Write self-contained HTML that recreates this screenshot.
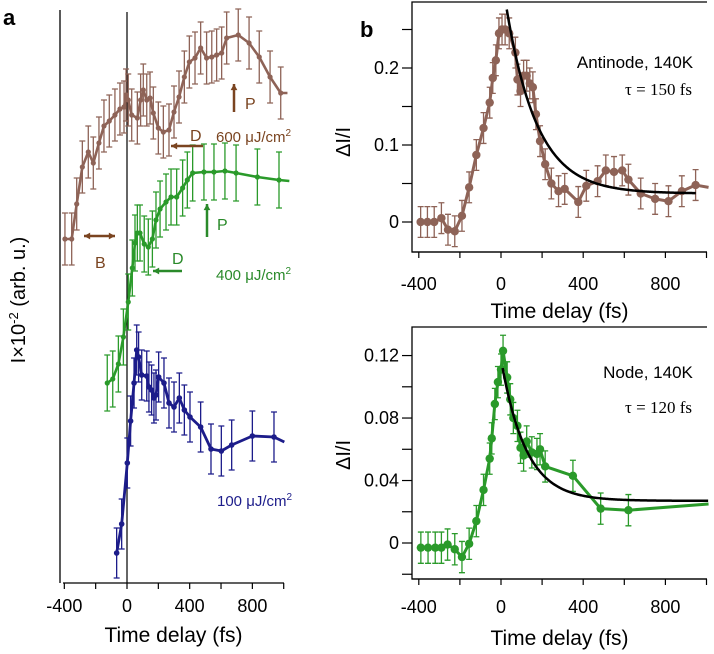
<!DOCTYPE html>
<html><head><meta charset="utf-8"><style>
html,body{margin:0;padding:0;background:#fff;width:714px;height:654px;overflow:hidden}
svg{display:block;font-family:"Liberation Sans",sans-serif}
</style></head><body>
<svg id="c" width="714" height="654" viewBox="0 0 714 654"></svg>
<script>
// ---------- Panel a data ----------
const aBrownT=[-396,-353,-321,-285,-247,-215,-179,-147,-113,-77,-45,-19,-6,8,30,66,87,104,126,147,168,200,232,268,300,332,366,398,434,470,508,541,572,604,636,710,779,844,913,981];
const aBrownV=[3.44,3.44,3.79,4.16,4.31,4.20,4.40,4.57,4.62,4.68,4.74,4.76,4.88,4.83,4.68,4.65,4.83,4.93,4.83,4.85,4.70,4.55,4.51,4.53,4.71,4.86,5.06,5.21,5.25,5.35,5.25,5.26,5.28,5.30,5.45,5.48,5.40,5.26,5.06,4.90];
const aGreenT=[-126,-91,-55,-23,8,34,51,66,83,110,136,162,185,211,249,281,317,355,385,419,491,555,625,696,832,970];
const aGreenV=[2.00,2.04,2.19,2.46,2.81,3.15,3.40,3.50,3.50,3.39,3.36,3.44,3.63,3.74,3.81,3.86,3.86,3.95,4.03,4.10,4.11,4.11,4.12,4.10,4.06,4.03];
const aBlueT=[-66,-34,2,23,45,62,74,94,126,140,157,172,185,202,236,268,300,334,366,402,470,536,602,668,800,938];
const aBlueV=[0.30,0.59,1.20,1.62,2.00,2.33,2.26,2.08,2.07,1.96,1.93,1.85,1.88,2.06,2.00,1.80,1.76,1.85,1.73,1.66,1.56,1.34,1.32,1.38,1.47,1.46];
const aErr=0.26;
const xTickLabels=[-400,0,400,800];
// ---------- Panel b data ----------
const bTopT=[-391,-358,-325,-290,-258,-225,-190,-155,-120,-85,-55,-40,-25,-10,5,20,40,70,80,95,110,125,140,155,170,190,215,245,280,310,376,415,470,510,550,590,620,680,750,815,880,947];
const bTopV=[0,0,0,0.005,-0.01,-0.012,0.008,0.045,0.087,0.122,0.155,0.187,0.21,0.245,0.25,0.25,0.245,0.22,0.185,0.17,0.19,0.19,0.18,0.175,0.14,0.105,0.075,0.05,0.04,0.043,0.026,0.047,0.053,0.067,0.065,0.067,0.055,0.037,0.03,0.027,0.04,0.048];
const bTopErr=0.02;
const bTopFit=[0.037,0.276,150,28,950]; // offset, start value, tau, t0, t1
const bTopYTicks=[0,0.1,0.2];
const bBotT=[-390,-355,-320,-290,-260,-225,-190,-155,-120,-85,-55,-45,-30,-15,0,10,30,45,60,80,95,110,125,150,175,190,215,350,485,620];
const bBotV=[-0.003,-0.003,-0.003,-0.003,-0.001,-0.004,-0.009,-0.0005,0.014,0.034,0.054,0.067,0.089,0.103,0.111,0.123,0.106,0.092,0.080,0.075,0.061,0.056,0.065,0.058,0.057,0.060,0.049,0.043,0.022,0.021];
const bBotErr=0.01;
const bBotFit=[0.027,0.112,120,8,1010];
const bBotYTicks=[0,0.04,0.08,0.12];

const svg=document.getElementById('c');
const NS='http://www.w3.org/2000/svg';
function mk(tag,attrs,parent){const e=document.createElementNS(NS,tag);for(const k in attrs)e.setAttribute(k,attrs[k]);(parent||svg).appendChild(e);return e;}
function txt(s,x,y,size,fill,anchor,extra){const e=mk('text',Object.assign({x:x,y:y,'font-size':size,fill:fill||'#000','text-anchor':anchor||'middle'},extra||{}));e.textContent=s;return e;}

// scales
const xA=t=>127+t*0.1567, yA=v=>583-v*100;
const xB=t=>501+t*0.2055, yBt=v=>222-770*v, yBb=v=>543-1562*v;

function series(T,V,err,xs,ys,color,r,lw,name,extraEnd){
  const g=mk('g',{});
  
  
  for(let i=0;i<T.length;i++){
    const x=xs(T[i]);
    const l=mk('path',{d:`M${x},${ys(V[i]-err)}V${ys(V[i]+err)}M${x-3},${ys(V[i]-err)}h6M${x-3},${ys(V[i]+err)}h6`,stroke:color,'stroke-width':1.3,fill:'none'},g);
    
    
  }
  let d=T.map((t,i)=>(i?'L':'M')+xs(t)+','+ys(V[i])).join('');
  if(extraEnd)d+='L'+xs(extraEnd[0])+','+ys(extraEnd[1]);
  const p=mk('path',{d:d,stroke:color,'stroke-width':lw,fill:'none','stroke-linejoin':'round'},g);
  
  
  for(let i=0;i<T.length;i++){
    const c=mk('circle',{cx:xs(T[i]),cy:ys(V[i]),r:r,fill:color},g);
    
    
  }
}
function fit(F,xs,ys,name){
  let d='';
  for(let t=F[3];t<=F[4];t+=5){d+=(d?'L':'M')+xs(t)+','+ys(F[0]+(F[1]-F[0])*Math.exp(-(t-F[3])/F[2]));}
  const p=mk('path',{d:d,stroke:'#000','stroke-width':2.5,fill:'none'});
  
  
}
function xAxis(xs,y,x0,x1,labelY,titleY,name){
  const g=mk('g',{});
  
  
  mk('line',{x1:x0,x2:x1,y1:y,y2:y,stroke:'#000','stroke-width':1.3},g);
  for(let t=-400;t<=1000;t+=200)mk('line',{x1:xs(t),x2:xs(t),y1:y,y2:y+6,stroke:'#000','stroke-width':1.2},g);
  xTickLabels.forEach(v=>{const e=txt(String(v),xs(v),labelY,18,'#000','middle');g.appendChild(e);});
  const t=txt('Time delay (fs)',(x0+x1)/2,titleY,21);
}

// ---------- Panel a ----------
const la=txt('a',3,25,22,'#000','start',{'font-weight':'bold'});
const ay=mk('line',{x1:60,x2:60,y1:10,y2:583,stroke:'#000','stroke-width':1.3});
const z0=mk('line',{x1:127,x2:127,y1:12,y2:583,stroke:'#000','stroke-width':1.2});
const yl=txt('',0,0,20,'#000','middle',{transform:'translate(25,300) rotate(-90)'});
const s1=mk('tspan',{},yl);s1.textContent='I×10';
const s2=mk('tspan',{dy:-7,'font-size':13},yl);s2.textContent='-2';
const s3=mk('tspan',{dy:7},yl);s3.textContent=' (arb. u.)';

xAxis(xA,583,63,284,612,642,'panel-a-x-axis');

series(aBrownT,aBrownV,aErr,xA,yA,'#8e6357',2.6,2.6,'series-600',[1024,4.90]);
series(aGreenT,aGreenV,0.28,xA,yA,'#2a9a2a',2.6,2.6,'series-400',[1036,4.02]);
series(aBlueT,aBlueV,0.25,xA,yA,'#1c1c8a',2.8,2.8,'series-100',[1004,1.41]);

function arrow(x1,y1,x2,y2,color,name,dbl){
  const g=mk('g',{});
  mk('line',{x1:x1,y1:y1,x2:x2,y2:y2,stroke:color,'stroke-width':2.5},g);
  const head=(ax,ay,bx,by)=>{const a=Math.atan2(by-ay,bx-ax),L=7;mk('polygon',{points:`${bx},${by} ${bx-L*Math.cos(a-0.5)},${by-L*Math.sin(a-0.5)} ${bx-L*Math.cos(a+0.5)},${by-L*Math.sin(a+0.5)}`,fill:color},g);};
  head(x1,y1,x2,y2);if(dbl)head(x2,y2,x1,y1);
}
const brown='#7a4420',green='#2a8a2a';
arrow(234,112,234,84,brown,'peak-arrow-600');
arrow(203,146,171,146,brown,'dip-arrow-600');
arrow(84,236,115,236,brown,'b-arrow',true);
arrow(207,237,207,204,green,'peak-arrow-400');
arrow(182,271,153,271,green,'dip-arrow-400');
const ann=[['P',245,109,brown],['D',190,141,brown],['B',95,268,brown],['P',217,230,green],['D',172,264,green]];
ann.forEach(a=>{const e=txt(a[0],a[1],a[2],16,a[3],'start');});
function flu(n,x,y,c,name){const e=txt('',x,y,15,c,'start');const a=mk('tspan',{},e);a.textContent=n+' μJ/cm';const b=mk('tspan',{dy:-6,'font-size':10},e);b.textContent='2';}
flu(600,216,142,brown,'fluence-label-600');
flu(400,216,280,green,'fluence-label-400');
flu(100,217,506,'#1c1c8a','fluence-label-100');

// ---------- Panel b ----------
const lb=txt('b',360,37,22,'#000','start',{'font-weight':'bold'});
function frame(top,bottom,ys,ticks,minorStep,vmin,vmax,fmt,name,labY){
  const g=mk('g',{});
  mk('path',{d:`M707,${top}H412V${bottom}H707`,stroke:'#000','stroke-width':1.3,fill:'none'},g);
  for(let v=Math.ceil(vmin/minorStep)*minorStep;v<=vmax+1e-9;v+=minorStep)mk('line',{x1:412,x2:402,y1:ys(v),y2:ys(v),stroke:'#000','stroke-width':1.2},g);
  ticks.forEach(v=>{const e=txt(fmt(v),399,ys(v)+6,18,'#000','end');g.appendChild(e);});
  const t=txt('ΔI/I',0,0,20,'#000','middle',{transform:`translate(350,${labY}) rotate(-90)`});
}
frame(2,252,yBt,bTopYTicks,0.05,-0.039,0.28,v=>v===0?'0':String(v),'antinode-frame',142);
xAxis(xB,252,412,707,290,318,'antinode-x-axis');
series(bTopT,bTopV,bTopErr,xB,yBt,'#8e6357',4.2,3,'antinode-series',[1010,0.045]);
fit(bTopFit,xB,yBt,'antinode-fit');
let e=txt('Antinode, 140K',635,68,17,'#000','middle');
e=txt('τ = 150 fs',692,95,17,'#000','end',{'font-family':'Liberation Serif,serif'});

frame(327,579,yBb,bBotYTicks,0.02,-0.023,0.13,v=>v===0?'0':v.toFixed(2),'node-frame',455);
xAxis(xB,579,412,707,613,645,'node-x-axis');
series(bBotT,bBotV,bBotErr,xB,yBb,'#2a9a2a',4.2,3,'node-series',[1010,0.025]);
fit(bBotFit,xB,yBb,'node-fit');
e=txt('Node, 140K',648,378,17,'#000','middle');
e=txt('τ = 120 fs',692,413,17,'#000','end',{'font-family':'Liberation Serif,serif'});
</script>
</body></html>
